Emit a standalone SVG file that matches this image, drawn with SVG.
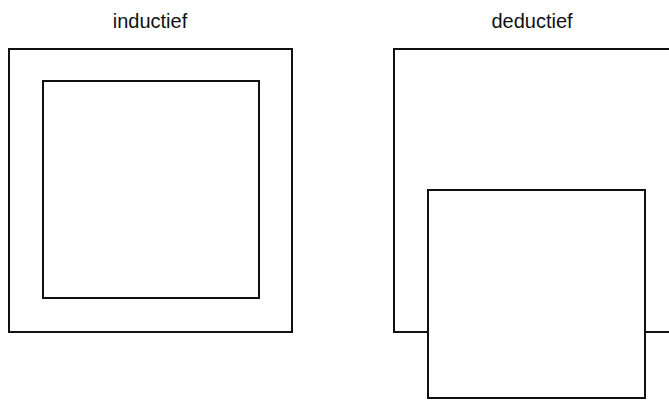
<svg xmlns="http://www.w3.org/2000/svg" width="669" height="408" viewBox="0 0 669 408">
<style>
.box{fill:#fff;stroke:#111;stroke-width:2}
.lbl{font-family:"Liberation Sans",Arial,sans-serif;font-size:20px;fill:#111;text-anchor:middle}
</style>
<rect width="669" height="408" fill="#fff"/>
<g id="inductief">
<text class="lbl" x="150" y="28">inductief</text>
<rect id="ind-outer" class="box" x="9" y="49" width="283" height="283"/>
<rect id="ind-inner" class="box" x="43" y="81" width="216" height="217"/>
</g>
<g id="deductief">
<text class="lbl" x="532" y="28">deductief</text>
<rect id="ded-outer" class="box" x="394" y="49" width="300" height="283"/>
<rect id="ded-inner" class="box" x="428" y="190" width="217" height="208"/>
</g>
<g id="connectors"/>
</svg>
